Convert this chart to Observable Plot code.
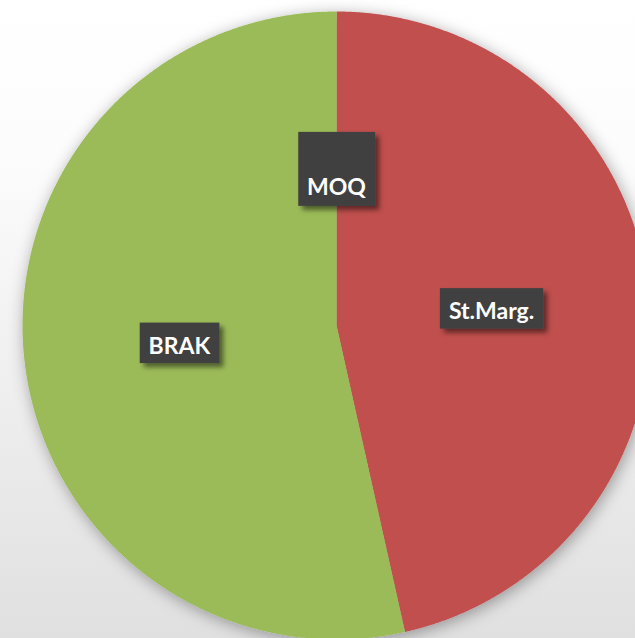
<!DOCTYPE html>
<html><head><meta charset="utf-8">
<script src="https://cdn.jsdelivr.net/npm/d3@7"></script>
<script src="https://cdn.jsdelivr.net/npm/@observablehq/plot@0.6"></script>
<style>
html,body{margin:0;padding:0;}
body{width:635px;height:638px;overflow:hidden;background:linear-gradient(to bottom,#ffffff 0%,#fcfcfc 25%,#efefef 60%,#e0e0e0 100%);}
#chart{width:635px;height:638px;overflow:hidden;position:relative;}
</style></head><body><div id="chart"></div>
<script>
// Data
const categories = ["MOQ", "St.Marg.", "BRAK"];
const values = [0, 46.5, 53.5];
const colors = ["#4F81BD", "#C0504D", "#9BBB59"];

// Slice geometry derived from the values
const total = d3.sum(values);
let acc = 0;
const slices = categories.map((c, i) => {
  const a0 = acc / total * 2 * Math.PI; acc += values[i];
  const a1 = acc / total * 2 * Math.PI;
  return {c, v: values[i], a0, a1};
});
const pts = [];
for (const s of slices) {
  if (s.v <= 0) continue;
  pts.push({c: s.c, x: 0, y: 0});
  const n = Math.max(2, Math.ceil((s.a1 - s.a0) / (Math.PI / 720)));
  for (let k = 0; k <= n; k++) {
    const a = s.a0 + (s.a1 - s.a0) * k / n;
    pts.push({c: s.c, x: Math.sin(a), y: Math.cos(a)});
  }
}
const lab = slices.map(s => { const m = (s.a0 + s.a1) / 2; return {c: s.c, x: 0.5 * Math.sin(m), y: 0.5 * Math.cos(m)}; });

const FS = 23;
const textOpts = {x: "x", y: "y", text: "c", fill: "white", fontSize: FS, fontWeight: "bold", fontFamily: "Lato, 'Open Sans', sans-serif"};

const plot = Plot.plot({
  width: 635, height: 638,
  marginTop: 0, marginRight: 0, marginBottom: 0, marginLeft: 0,
  style: {background: "transparent", overflow: "hidden"},
  x: {domain: [-1, 1], range: [22, 650], axis: null},
  y: {domain: [-1, 1], range: [639, 11], axis: null},
  color: {domain: categories, range: colors},
  marks: [
    Plot.line(pts, {x: "x", y: "y", z: "c", fill: "c", stroke: "none", curve: "linear-closed"}),
    Plot.text(lab.filter(d => d.c === "MOQ"), {...textOpts, dy: 19}),
    Plot.text(lab.filter(d => d.c !== "MOQ"), {...textOpts, dy: 3.5, dx: -1})
  ]
});
document.getElementById("chart").appendChild(plot);

// Decorations: shadows and label boxes
const svg = d3.select(plot);
const defs = svg.insert("defs", ":first-child");
defs.append("filter").attr("id", "pieShadow").attr("x", "-20%").attr("y", "-20%").attr("width", "140%").attr("height", "140%")
  .append("feDropShadow").attr("dx", 2).attr("dy", 3).attr("stdDeviation", 8).attr("flood-color", "#000").attr("flood-opacity", 0.35);
defs.append("filter").attr("id", "boxShadow").attr("x", "-30%").attr("y", "-30%").attr("width", "170%").attr("height", "170%")
  .append("feDropShadow").attr("dx", 4).attr("dy", 4).attr("stdDeviation", 2.5).attr("flood-color", "#000").attr("flood-opacity", 0.5);
svg.selectAll("g[aria-label='line']").attr("filter", "url(#pieShadow)");
svg.selectAll("g[aria-label='text'] text").each(function() {
  const t = this;
  const m = t.transform.baseVal.consolidate().matrix;
  const w = t.getComputedTextLength();
  const bb = t.getBBox();
  const cx = m.e + bb.x + bb.width / 2;
  const baseline = m.f + 0.32 * FS;
  const isMOQ = t.textContent === "MOQ";
  const top = baseline - (isMOQ ? 63 : 31);
  const bottom = baseline + (isMOQ ? 11 : 9.5);
  d3.select(t.parentNode).insert("rect", function() { return t; })
    .attr("x", cx - w / 2 - 9).attr("width", w + 18)
    .attr("y", top).attr("height", bottom - top)
    .attr("fill", "#404040").attr("filter", "url(#boxShadow)");
});
</script></body></html>
